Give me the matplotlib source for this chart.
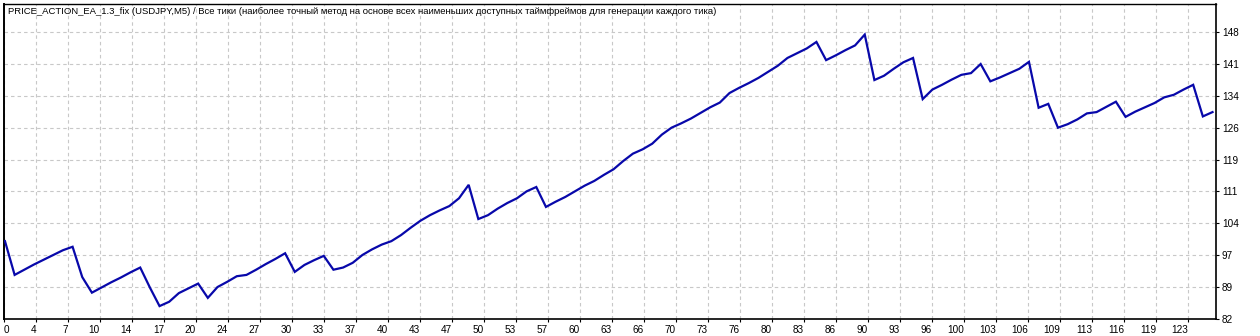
import numpy as np
import matplotlib.pyplot as plt
from matplotlib.ticker import FixedLocator, FixedFormatter

title = ("PRICE_ACTION_EA_1.3_fix (USDJPY,M5) / Все тики (наиболее точный метод на основе "
         "всех наименьших доступных таймфреймов для генерации каждого тика)")

# balance after each trade
balance = [
    100.0, 92.2, 93.4, 94.6, 95.7, 96.8, 97.9, 98.7, 91.7, 88.1,
    89.3, 90.5, 91.6, 92.8, 93.9, 89.3, 85.0, 86.0, 88.0, 89.1,
    90.2, 86.9, 89.4, 90.6, 91.9, 92.2, 93.4, 94.7, 95.9, 97.2,
    92.9, 94.5, 95.6, 96.6, 93.4, 93.9, 95.0, 96.8, 98.1, 99.2,
    100.0, 101.4, 103.1, 104.7, 106.0, 107.1, 108.1, 109.9, 113.0, 105.1,
    106.0, 107.5, 108.8, 109.9, 111.5, 112.5, 107.9, 109.1, 110.2, 111.5,
    112.8, 113.9, 115.3, 116.6, 118.5, 120.2, 121.2, 122.5, 124.6, 126.2,
    127.2, 128.3, 129.6, 130.9, 132.0, 134.2, 135.4, 136.5, 137.7, 139.1,
    140.5, 142.3, 143.4, 144.5, 146.0, 141.8, 142.9, 144.1, 145.2, 147.7,
    137.2, 138.2, 139.8, 141.3, 142.3, 132.8, 135.0, 136.1, 137.3, 138.4,
    138.8, 140.9, 136.9, 137.8, 138.8, 139.8, 141.4, 130.8, 131.7, 126.2,
    127.0, 128.1, 129.5, 129.8, 131.0, 132.2, 128.7, 129.9, 130.9, 131.9,
    133.2, 133.8, 135.0, 136.1, 128.8, 129.8,
]

x_labels = ["0", "4", "7", "10", "14", "17", "20", "24", "27", "30", "33", "37", "40",
            "43", "47", "50", "53", "57", "60", "63", "66", "70", "73", "76", "80",
            "83", "86", "90", "93", "96", "100", "103", "106", "109", "113", "116",
            "119", "123"]
y_labels = ["82", "89", "97", "104", "111", "119", "126", "134", "141", "148"]

y_min, y_step, y_max = 81.95, 7.38, 154.76
x_min, x_step, x_max = -0.1, 3.3126, 125.33

plt.rcParams['font.family'] = ['Liberation Sans', 'DejaVu Sans']
plt.rcParams['lines.scale_dashes'] = False

fig = plt.figure(figsize=(12.6, 3.36), dpi=100)
ax = fig.add_axes([4 / 1260, 16.7 / 336, 1211.7 / 1260, 315.3 / 336])

trades = np.arange(len(balance))
ax.plot(trades, balance, color="#0808aa", lw=1.6, solid_joinstyle="miter", zorder=3)

ax.set_xlim(x_min, x_max)
ax.set_ylim(y_min, y_max)

xt = [x_min + k * x_step for k in range(len(x_labels))]
yt = [y_min + k * y_step for k in range(len(y_labels))]
ax.xaxis.set_major_locator(FixedLocator(xt))
ax.xaxis.set_major_formatter(FixedFormatter(x_labels))
ax.yaxis.set_major_locator(FixedLocator(yt))
ax.yaxis.set_major_formatter(FixedFormatter(y_labels))

ax.yaxis.tick_right()
ax.tick_params(axis='y', direction='out', length=2.5, width=0.8, pad=2, labelsize=7.2)
ax.tick_params(axis='x', direction='out', length=2.5, width=0.8, pad=1.5, labelsize=7.2)
for lab in ax.get_xticklabels():
    lab.set_ha('right')
ax.get_xticklabels()[0].set_ha('left')

ax.grid(True, color="#c8c8c8", lw=0.8, linestyle=(0, (2.5, 2.2)))
for side in ['left', 'right', 'top', 'bottom']:
    ax.spines[side].set_color('black')
ax.spines['left'].set_linewidth(1.4)
ax.spines['right'].set_linewidth(1.2)
ax.spines['top'].set_linewidth(1.0)
ax.spines['bottom'].set_linewidth(1.2)

fig.text(8 / 1260, 1 - 12 / 336, title, fontsize=6.8, va='center', ha='left')

fig.savefig("out.png", dpi=100, facecolor='white')
